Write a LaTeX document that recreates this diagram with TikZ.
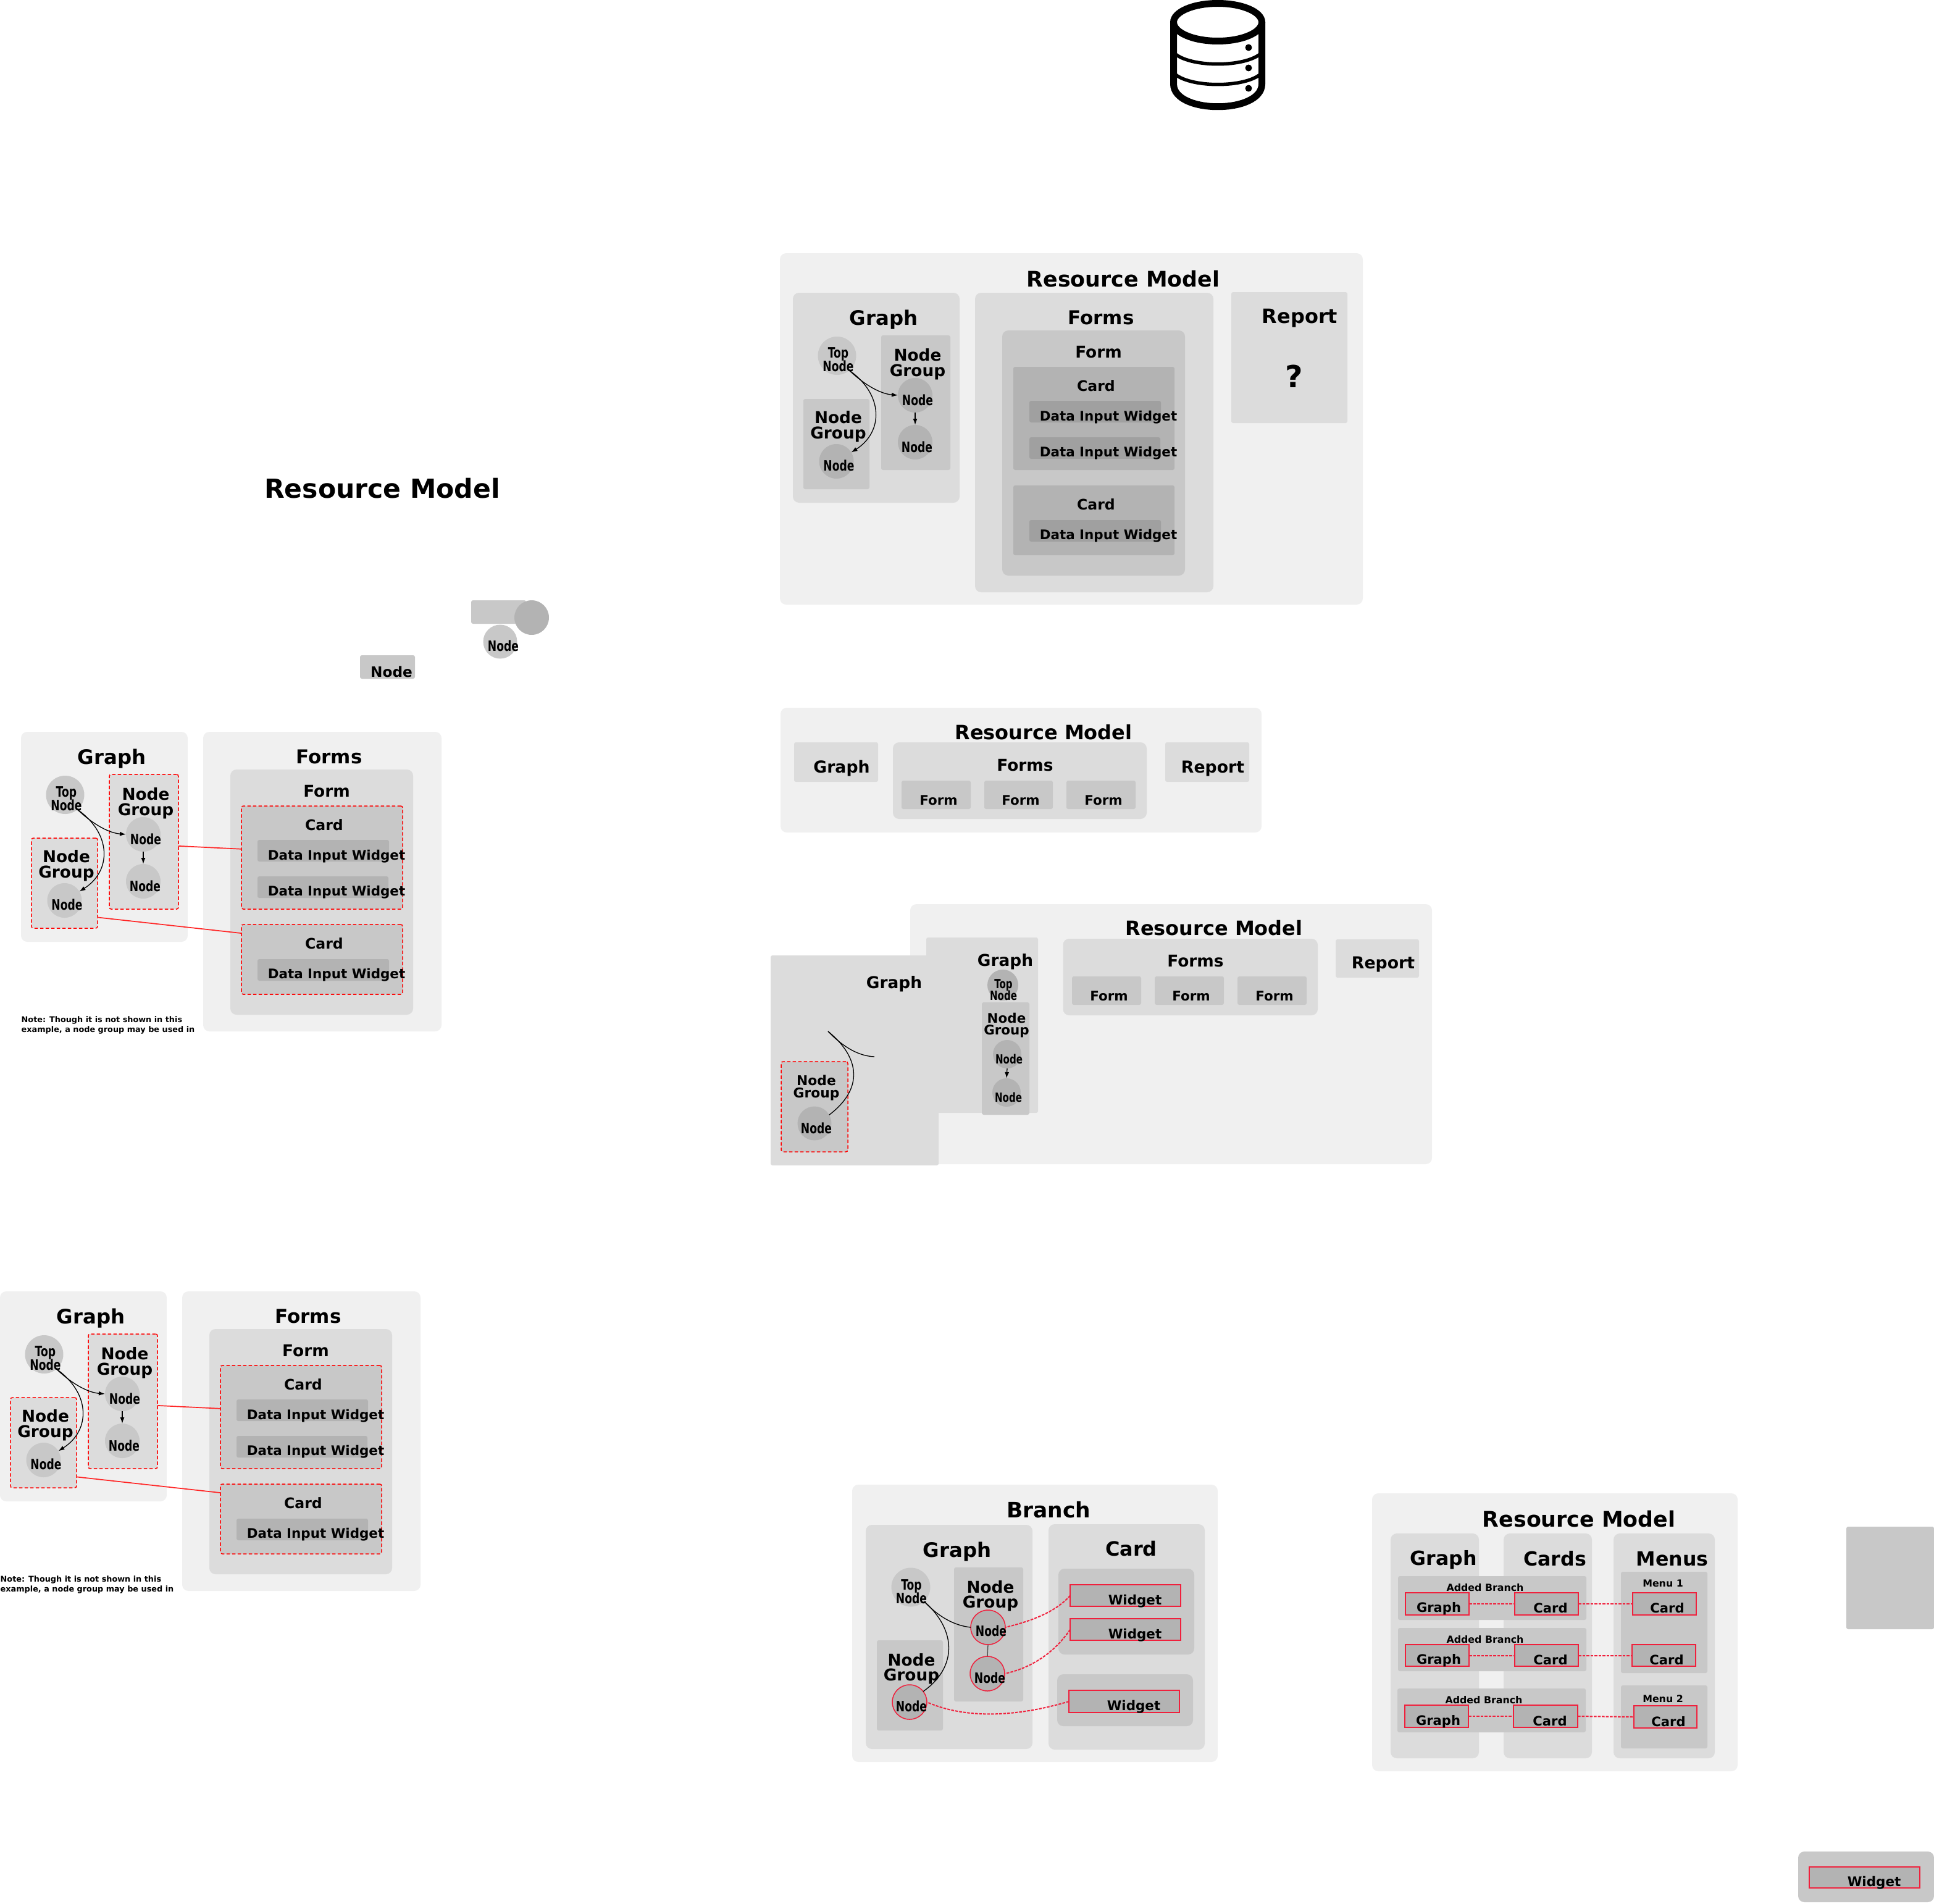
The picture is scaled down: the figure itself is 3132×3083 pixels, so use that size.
\documentclass[tikz,border=0pt]{standalone}
\usepackage{fontspec}
\setmainfont{DejaVu Sans}
\newfontfamily\condfont{DejaVu Sans}[FakeStretch=0.74]
\usetikzlibrary{arrows.meta, fit, calc}
\definecolor{cA}{HTML}{F0F0F0}
\definecolor{cB}{HTML}{DCDCDC}
\definecolor{cC}{HTML}{C8C8C8}
\definecolor{cD}{HTML}{B3B3B3}
\definecolor{cE}{HTML}{A0A0A0}
\definecolor{linkred}{HTML}{F0203C}
\tikzstyle{box}=[rectangle,inner sep=0pt,outer sep=0pt,rounded corners=1mm]
\tikzstyle{sqbox}=[rectangle,inner sep=0pt,outer sep=0pt,rounded corners=0.3mm]
\tikzstyle{dot}=[circle,inner sep=0pt,outer sep=0pt]
\tikzstyle{reddash}=[draw=red,line width=0.15mm,dash pattern=on 0.55mm off 0.35mm]
\tikzstyle{redbox}=[rectangle,inner sep=0pt,outer sep=0pt,draw=linkred,line width=0.15mm,fill=cD]
\tikzstyle{redlink}=[draw=linkred,line width=0.2mm,dash pattern=on 0.45mm off 0.2mm]
\tikzset{
  lbl/.style={inner sep=0pt,align=center,font=\bfseries\fontsize{#1}{#1}\selectfont},
  cond/.style={inner sep=0pt,align=center,font=\condfont\bfseries\fontsize{#1}{#1}\selectfont},
  wire/.style={line width=0.13mm,black}
}
% graph panel and forms panel, same drawing three times
\newcommand{\graphforms}[7]{%
  \begin{scope}[shift={(#2)}]
  \node[box,fill=#3,fit={(34,1185) (304,1525)}] (#1graph) {};
  \node[box,fill=#3,fit={(329,1185) (715,1670)}] (#1forms) {};
  \node[box,fill=#4,fit={(373,1246) (669,1643)}] (#1form) {};
  \node[sqbox,fill=#5,#7,fit={(391,1305) (652,1472)}] (#1cardx) {};
  \node[sqbox,fill=#5,#7,fit={(391,1497) (652,1610)}] (#1cardy) {};
  \node[sqbox,fill=#6,fit={(417,1360) (630,1395)}] (#1wa) {};
  \node[sqbox,fill=#6,fit={(417,1419) (629,1454)}] (#1wb) {};
  \node[sqbox,fill=#6,fit={(417,1553) (630,1588)}] (#1wc) {};
  \node[sqbox,fill=#4,#7,fit={(177,1254) (289,1472)}] (#1ngr) {};
  \node[sqbox,fill=#4,#7,fit={(51,1357) (158,1503)}] (#1ngl) {};
  \node[dot,fill=cC,minimum size=6.2mm] (#1top) at (105.5,1287) {};
  \node[dot,fill=#5,minimum size=5.6mm] (#1na) at (232,1351) {};
  \node[dot,fill=#5,minimum size=5.6mm] (#1nb) at (232,1427) {};
  \node[dot,fill=#5,minimum size=5.6mm] (#1nc) at (104.5,1458) {};
  \node[lbl=9.2] (#1tgraph) at (181,1229) {Graph};
  \node[lbl=8.8] (#1tforms) at (533,1225) {Forms};
  \node[lbl=7.5] (#1tform) at (529,1281) {Form};
  \node[lbl=6.7] (#1tcx) at (525,1336) {Card};
  \node[lbl=6.1] (#1twa) at (545,1387) {Data Input Widget};
  \node[lbl=6.1] (#1twb) at (545,1445) {Data Input Widget};
  \node[lbl=6.7] (#1tcy) at (525,1528) {Card};
  \node[lbl=6.1] (#1twc) at (545,1579) {Data Input Widget};
  \node[lbl=7.5] (#1tngr) at (236,1301) {Node\\[-0.5pt]Group};
  \node[lbl=7.5] (#1tngl) at (107.5,1402) {Node\\[-0.5pt]Group};
  \node[cond=6.6] (#1ttop) at (107.5,1293) {Top\\[-0.5pt]Node};
  \node[cond=6.6] (#1tna) at (236,1359) {Node};
  \node[cond=6.6] (#1tnb) at (235,1435) {Node};
  \node[cond=6.6] (#1tnc) at (108.5,1465) {Node};
  \draw[wire,->] (#1top.-50) .. controls (154,1338) and (179,1349) .. (#1na.west);
  \draw[wire,->] (#1top.-50) .. controls (181,1350) and (181,1410) .. (#1nc.31);
  \draw[wire,->] (#1na.south) -- (#1nb.north);
  \end{scope}
}

\begin{document}
\begin{tikzpicture}[x=0.1mm,y=-0.1mm,>={Latex[length=1mm,width=0.7mm]}]
  \useasboundingbox (0,0) rectangle (3132,3083);
  % database icon
  \draw[line width=1.1mm] (1972,36) ellipse [x radius=71.5,y radius=30.5];
  \draw[line width=1.1mm] (1900.5,36) -- (1900.5,136) .. controls (1900.5,185) and (2043.5,185) .. (2043.5,136) -- (2043.5,36);
  \draw[line width=0.55mm] (1900.5,85) .. controls (1925,110) and (2019,110) .. (2043.5,85);
  \draw[line width=0.55mm] (1900.5,118) .. controls (1925,143) and (2019,143) .. (2043.5,118);
  \fill (2022,77) circle [radius=5.5];
  \fill (2022,110) circle [radius=5.5];
  \fill (2022,143) circle [radius=5.5];

  % panel top right
  \node[box,fill=cA,fit={(1263,410) (2207,979)}] (outerA) {};
  \node[sqbox,fill=cB,fit={(1994,473) (2182,685)}] (reportA) {};
  \graphforms{a}{1250,-711}{cB}{cC}{cD}{cE}{}
  \node[lbl=9.9] (tmodelA) at (1819,452) {Resource Model};
  \node[lbl=9.1] (treportA) at (2105,515) {Report};
  \node[lbl=14] (tquest) at (2096,609) {?};

  % panels on the left
  \node[lbl=12.1] (tmodelL) at (619,791) {Resource Model};
  \foreach \s/\sx/\sy in {b/0/0,c/-34/906}{
    \graphforms{\s}{\sx,\sy}{cA}{cB}{cC}{cD}{reddash}
    \draw[red!85,line width=0.17mm] (\s ngr.-7) -- (\s cardx.174);
    \draw[red!85,line width=0.17mm] (\s ngl.-46) -- (\s cardy.162);
    \node[anchor=west,inner sep=0pt,align=left,font=\bfseries\fontsize{3.65}{4.7}\selectfont] (\s note) at (34+\sx,1660+\sy) {Note: Though it is not shown in this\\example, a node group may be used in};
  }

  % loose shapes
  \node[sqbox,fill=cC,fit={(583,1061) (672,1099)}] (rectN) {};
  \node[lbl=6.6] (trectN) at (634,1088) {Node};
  \node[sqbox,fill=cC,fit={(763,972) (852,1010)}] (rectE) {};
  \node[dot,fill=cD,minimum size=5.6mm] (dotE) at (861,1000) {};
  \node[dot,fill=cC,minimum size=5.5mm] (dotN) at (810,1039) {};
  \node[cond=6.6] (tdotN) at (815,1046) {Node};

  % panel with three forms
  \node[box,fill=cA,fit={(1264,1146) (2043,1348)}] (outerD) {};
  \node[sqbox,fill=cB,fit={(1286,1202) (1422,1266)}] (graphD) {};
  \node[box,fill=cB,fit={(1446,1202) (1857,1326)}] (formsD) {};
  \node[sqbox,fill=cB,fit={(1887,1202) (2023,1266)}] (reportD) {};
  \node[sqbox,fill=cC,fit={(1460,1264) (1572,1310)}] (formDa) {};
  \node[sqbox,fill=cC,fit={(1594,1264) (1705,1310)}] (formDb) {};
  \node[sqbox,fill=cC,fit={(1727,1264) (1839,1310)}] (formDc) {};
  \node[lbl=9.1] (tmodelD) at (1690,1186) {Resource Model};
  \node[lbl=7.6] (tgraphD) at (1363,1244) {Graph};
  \node[lbl=7.5] (tformsD) at (1660,1239) {Forms};
  \node[lbl=7.6] (treportD) at (1964,1245) {Report};
  \node[lbl=6.1] (tformDa) at (1520,1296) {Form};
  \node[lbl=6.1] (tformDb) at (1653,1296) {Form};
  \node[lbl=6.1] (tformDc) at (1787,1296) {Form};

  % panel with graph taken out
  \node[box,fill=cA,fit={(1474,1464) (2319,1885)}] (outerE) {};
  \node[sqbox,fill=cB,fit={(1500,1518) (1681,1802)}] (graphE) {};
  \node[box,fill=cB,fit={(1721.5,1520) (2134,1644)}] (formsE) {};
  \node[sqbox,fill=cB,fit={(2163,1521) (2298,1583)}] (reportE) {};
  \node[sqbox,fill=cC,fit={(1736,1581) (1848,1627)}] (formEa) {};
  \node[sqbox,fill=cC,fit={(1870,1581) (1982,1627)}] (formEb) {};
  \node[sqbox,fill=cC,fit={(2004,1581) (2116,1627)}] (formEc) {};
  \node[sqbox,fill=cC,fit={(1590,1623) (1667,1805)}] (ngE) {};
  \node[sqbox,fill=cB,fit={(1248,1547) (1520,1887)}] (bigE) {};
  \node[sqbox,fill=cC,reddash,fit={(1265,1719) (1373,1865)}] (bigng) {};
  \node[dot,fill=cD,minimum size=5mm] (topE) at (1624,1595) {};
  \node[dot,fill=cD,minimum size=4.6mm] (naE) at (1631,1707) {};
  \node[dot,fill=cD,minimum size=4.6mm] (nbE) at (1630,1769) {};
  \node[dot,fill=cD,minimum size=5.5mm] (bignode) at (1319,1819) {};
  \coordinate (cutA) at (1341,1670);
  \coordinate (cutB) at (1416,1711);
  \node[lbl=9.1] (tmodelE) at (1966,1503) {Resource Model};
  \node[lbl=7.5] (tgraphE) at (1628,1557) {Graph};
  \node[lbl=7.5] (tbigE) at (1448,1593) {Graph};
  \node[lbl=7.5] (tformsE) at (1936,1556) {Forms};
  \node[lbl=7.6] (treportE) at (2240,1562) {Report};
  \node[lbl=6.1] (tformEa) at (1796,1613) {Form};
  \node[lbl=6.1] (tformEb) at (1929,1613) {Form};
  \node[lbl=6.1] (tformEc) at (2064,1613) {Form};
  \node[cond=5.8] (ttopE) at (1625,1603) {Top\\[-0.5pt]Node};
  \node[lbl=6.1] (tngE) at (1630,1660) {Node\\[-0.5pt]Group};
  \node[cond=5.8] (tnaE) at (1634,1715) {Node};
  \node[cond=5.8] (tnbE) at (1633,1777) {Node};
  \node[lbl=6.2] (tbigng) at (1322,1761) {Node\\[-0.5pt]Group};
  \node[cond=6.6] (tbignode) at (1322,1827) {Node};
  \draw[wire] (cutA) .. controls (1365,1695) and (1390,1710) .. (cutB);
  \draw[wire] (cutA) .. controls (1396,1715) and (1396,1765) .. (bignode.30);
  \draw[wire,->] (naE.south) -- (nbE.north);

  % branch
  \node[box,fill=cA,fit={(1380,2404) (1972,2853)}] (outerF) {};
  \node[box,fill=cB,fit={(1402,2469) (1672,2832)}] (graphF) {};
  \node[box,fill=cB,fit={(1698,2468) (1951,2833)}] (cardF) {};
  \node[sqbox,fill=cC,fit={(1545,2538) (1657,2755)}] (ngrF) {};
  \node[sqbox,fill=cC,fit={(1420,2656) (1527,2802)}] (nglF) {};
  \node[box,fill=cC,fit={(1714,2540) (1934,2679)}] (cardFa) {};
  \node[box,fill=cC,fit={(1712,2711) (1932,2795)}] (cardFb) {};
  \node[redbox,fit={(1733,2566) (1912,2601)}] (wF) {};
  \node[redbox,fit={(1733,2621) (1912,2656)}] (wG) {};
  \node[redbox,fit={(1731,2737) (1910,2773)}] (wH) {};
  \node[dot,fill=cC,minimum size=6.3mm] (topF) at (1475,2570) {};
  \node[dot,fill=cD,draw=linkred,line width=0.15mm,minimum size=5.6mm] (naF) at (1600,2635) {};
  \node[dot,fill=cD,draw=linkred,line width=0.15mm,minimum size=5.6mm] (nbF) at (1599,2710) {};
  \node[dot,fill=cD,draw=linkred,line width=0.15mm,minimum size=5.6mm] (ncF) at (1473,2756) {};
  \node[lbl=9.8] (tbranch) at (1698,2445) {Branch};
  \node[lbl=9.2] (tgraphF) at (1550,2513) {Graph};
  \node[lbl=9.1] (tcardF) at (1832,2508) {Card};
  \node[lbl=7.5] (tngrF) at (1604,2584) {Node\\[-0.5pt]Group};
  \node[lbl=7.5] (tnglF) at (1476,2702) {Node\\[-0.5pt]Group};
  \node[cond=6.6] (ttopF) at (1476,2577) {Top\\[-0.5pt]Node};
  \node[cond=6.6] (tnaF) at (1605,2641) {Node};
  \node[cond=6.6] (tnbF) at (1603,2717) {Node};
  \node[cond=6.6] (tncF) at (1476,2763) {Node};
  \node[lbl=6.1] (twF) at (1838,2593) {Widget};
  \node[lbl=6.1] (twG) at (1838,2648) {Widget};
  \node[lbl=6.1] (twH) at (1836,2764) {Widget};
  \draw[wire] (topF.-47) .. controls (1520,2618) and (1545,2632) .. (naF.west);
  \draw[wire] (topF.-47) .. controls (1550,2640) and (1550,2700) .. (ncF.38);
  \draw[wire,gray!60!black] (naF.south) -- (nbF.north);
  \draw[redlink] (wF.west) .. controls (1710,2610) and (1670,2625) .. (naF.east);
  \draw[redlink] (wG.west) .. controls (1705,2680) and (1665,2702) .. (nbF.east);
  \draw[redlink] (wH.west) .. controls (1640,2782) and (1560,2782) .. (ncF.east);

  % resource model with menus
  \node[box,fill=cA,fit={(2222,2418) (2814,2868)}] (outerG) {};
  \node[box,fill=cB,fit={(2252,2483) (2395,2847)}] (graphG) {};
  \node[box,fill=cB,fit={(2435,2483) (2578,2847)}] (cardsG) {};
  \node[box,fill=cB,fit={(2613,2483) (2777,2847)}] (menusG) {};
  \node[sqbox,fill=cC,fit={(2264,2552) (2569,2623)}] (abA) {};
  \node[sqbox,fill=cC,fit={(2264,2636) (2569,2706)}] (abB) {};
  \node[sqbox,fill=cC,fit={(2263,2734) (2568,2805)}] (abC) {};
  \node[sqbox,fill=cC,fit={(2625,2545) (2765,2709)}] (menuA) {};
  \node[sqbox,fill=cC,fit={(2625,2729) (2765,2831)}] (menuB) {};
  \node[redbox,fit={(2276,2579) (2379,2615)}] (grA) {};
  \node[redbox,fit={(2453,2579) (2556,2615)}] (caA) {};
  \node[redbox,fit={(2644,2579) (2747,2615)}] (meA) {};
  \node[redbox,fit={(2276,2663) (2379,2698)}] (grB) {};
  \node[redbox,fit={(2453,2663) (2556,2698)}] (caB) {};
  \node[redbox,fit={(2643,2663) (2746,2698)}] (meB) {};
  \node[redbox,fit={(2275,2761) (2378,2797)}] (grC) {};
  \node[redbox,fit={(2451,2761) (2555,2797)}] (caC) {};
  \node[redbox,fit={(2646,2762) (2748,2798)}] (meC) {};
  \node[lbl=9.9] (tmodelG) at (2557,2459) {Resource Model};
  \node[lbl=9] (tgraphG) at (2338,2526) {Graph};
  \node[lbl=9] (tcardsG) at (2518,2524) {Cards};
  \node[lbl=9] (tmenusG) at (2708,2524) {Menus};
  \node[lbl=4.5] (tabA) at (2405,2571) {Added Branch};
  \node[lbl=4.5] (tabB) at (2405,2655) {Added Branch};
  \node[lbl=4.5] (tabC) at (2403,2753) {Added Branch};
  \node[lbl=4.5] (tmenuA) at (2693,2564) {Menu 1};
  \node[lbl=4.5] (tmenuB) at (2693,2751) {Menu 2};
  \node[lbl=6] (tgrA) at (2330,2605) {Graph};
  \node[lbl=6] (tcaA) at (2511,2604) {Card};
  \node[lbl=6] (tmeA) at (2700,2604) {Card};
  \node[lbl=6] (tgrB) at (2330,2689) {Graph};
  \node[lbl=6] (tcaB) at (2511,2688) {Card};
  \node[lbl=6] (tmeB) at (2699,2688) {Card};
  \node[lbl=6] (tgrC) at (2329,2788) {Graph};
  \node[lbl=6] (tcaC) at (2510,2787) {Card};
  \node[lbl=6] (tmeC) at (2702,2788) {Card};
  \foreach \r in {A,B,C}{
    \draw[redlink] (gr\r.east) -- (ca\r.west);
    \draw[redlink] (ca\r.east) -- (me\r.west);
  }

  % right edge
  \node[sqbox,fill=cC,fit={(2990,2472) (3132,2638)}] (rectR) {};
  \node[box,fill=cC,fit={(2912,2998) (3132,3080)}] (panelW) {};
  \node[redbox,fit={(2930,3023) (3109,3057)}] (widgetW) {};
  \node[lbl=6.1] (twidgetW) at (3035,3049) {Widget};
\end{tikzpicture}
\end{document}
